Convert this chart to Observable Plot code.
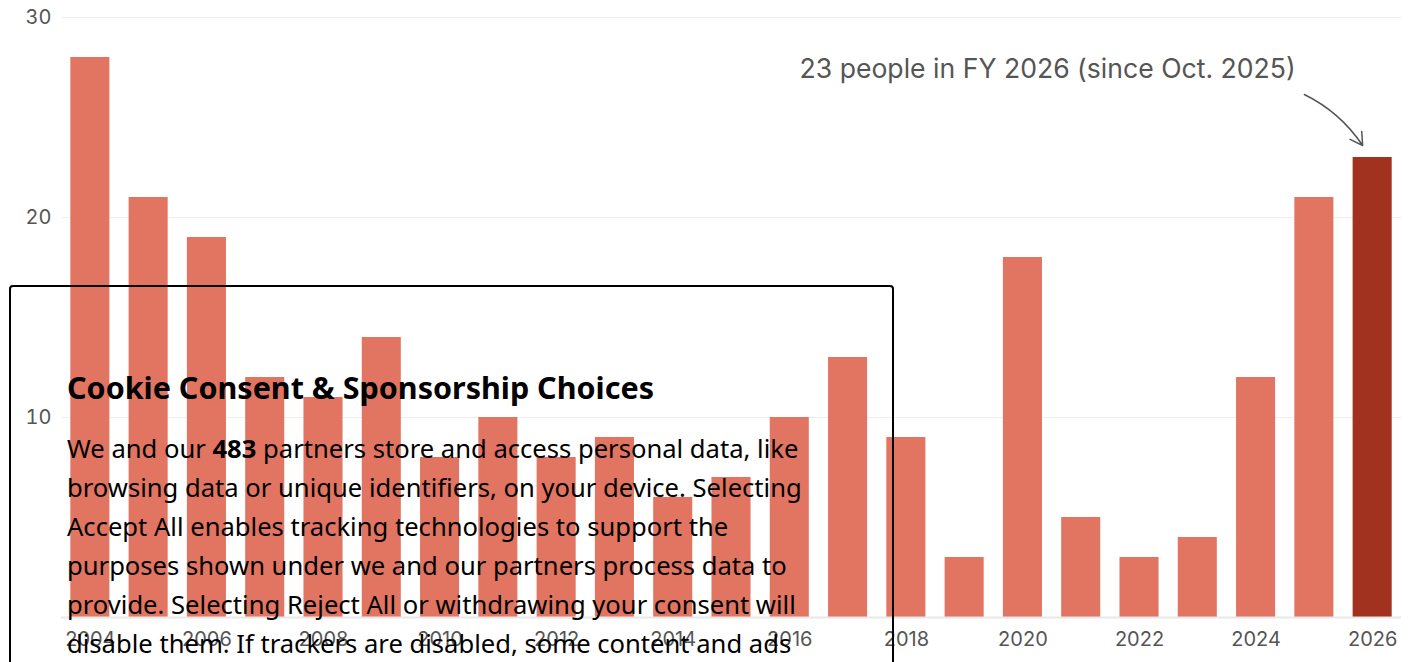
<!DOCTYPE html>
<html>
<head>
<meta charset="utf-8">
<script src="https://cdn.jsdelivr.net/npm/d3@7"></script>
<script src="https://cdn.jsdelivr.net/npm/@observablehq/plot@0.6"></script>
<style>
  html, body { margin: 0; padding: 0; background: #fff; overflow: hidden; }
  #chart { position: absolute; left: 0; top: 0; }
  #consent {
    position: absolute; left: 9px; top: 285px; width: 885px; height: 420px;
    border: 2px solid #000; border-radius: 4px; box-sizing: border-box;
    background: transparent; font-family: "Noto Sans", sans-serif; color: #000;
  }
  #consent h2 { position: absolute; left: 56px; top: 82px; margin: 0; font-size: 30.5px; font-weight: 700; white-space: nowrap; line-height: 36px; }
  #consent p { position: absolute; left: 56px; top: 142px; margin: 0; font-size: 25.6px; line-height: 39px; white-space: nowrap; }
</style>
</head>
<body>
<div id="chart"></div>
<div id="consent">
  <h2>Cookie Consent &amp; Sponsorship Choices</h2>
  <p>We and our <b>483</b> partners store and access personal data, like<br>browsing data or unique identifiers, on your device. Selecting<br>Accept All enables tracking technologies to support the<br>purposes shown under we and our partners process data to<br>provide. Selecting Reject All or withdrawing your consent will<br>disable them. If trackers are disabled, some content and ads</p>
</div>
<script>
const years = [2004,2005,2006,2007,2008,2009,2010,2011,2012,2013,2014,2015,2016,2017,2018,2019,2020,2021,2022,2023,2024,2025,2026];
const counts = [28,21,19,12,11,14,8,10,8,9,6,7,10,13,9,3,18,5,3,4,12,21,23];
const xTicks = [2004,2006,2008,2010,2012,2014,2016,2018,2020,2022,2024,2026];
const yTicks = [10,20,30];
const highlightYear = 2026;
const annotationText = ["23 people in FY 2026 (since Oct. 2025)"];
const annotationArrow = [{x1: 2025, y1: 26.15, x2: 2026, y2: 23.6}];

const data = years.map((y, i) => ({year: y, value: counts[i]}));

const chart = Plot.plot({
  width: 1410,
  height: 662,
  marginLeft: 61,
  marginRight: 9,
  marginTop: 17,
  marginBottom: 45,
  style: {fontFamily: "Inter, sans-serif", fontSize: "20px", color: "#555", background: "transparent"},
  x: {type: "band", domain: years, paddingInner: 0.33, paddingOuter: 0.16, round: false, label: null},
  y: {domain: [0, 30], label: null},
  marks: [
    Plot.gridY(yTicks, {stroke: "#eee", strokeOpacity: 1, strokeWidth: 1}),
    Plot.axisY(yTicks, {tickSize: 0, tickPadding: 10, fill: "#555", fontSize: 20, label: null}),
    Plot.axisX(xTicks, {tickSize: 0, tickPadding: 14, fill: "#555", fontSize: 20, label: null, tickFormat: d => String(d)}),
    Plot.barY(data, {x: "year", y: "value", fill: d => d.year === highlightYear ? "#a13220" : "#e27561", inset: 0}),
    Plot.ruleY([0], {stroke: "#e8e8e8", strokeWidth: 2}),
    Plot.text(annotationText, {x: () => highlightYear, y: () => counts[counts.length - 1], text: d => d, textAnchor: "end", dx: -77, dy: -88, fontSize: 26.6, fill: "#555"}),
    Plot.arrow(annotationArrow, {x1: "x1", y1: "y1", x2: "x2", y2: "y2", dx: -10, bend: 15, stroke: "#555", strokeWidth: 1.5, headLength: 14})
  ]
});
document.getElementById("chart").appendChild(chart);
</script>
</body>
</html>
